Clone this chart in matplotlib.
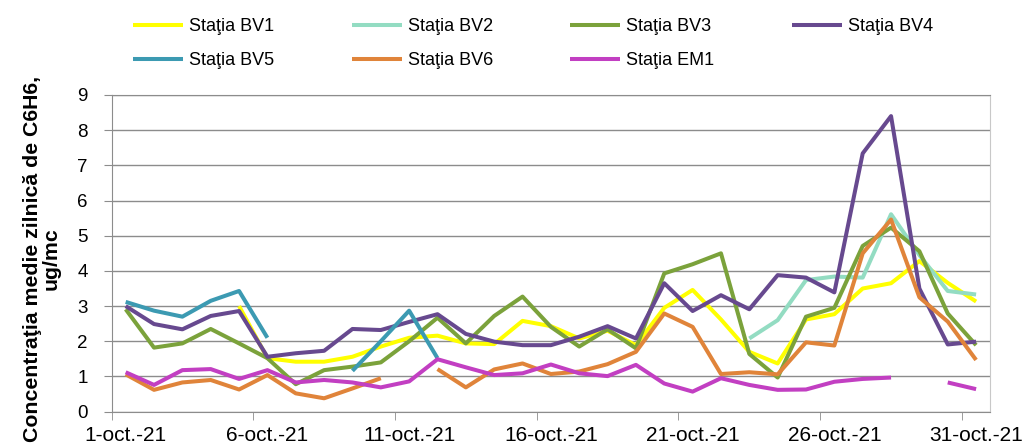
import numpy as np
import matplotlib
matplotlib.use("Agg")
import matplotlib.pyplot as plt

plt.rcParams["font.family"] = ["Liberation Sans", "DejaVu Sans"]

nan = np.nan

# Days of October 2021
days = list(range(1, 32))
tick_days = [1, 6, 11, 16, 21, 26, 31]
tick_labels = ["1-oct.-21", "6-oct.-21", "11-oct.-21", "16-oct.-21",
               "21-oct.-21", "26-oct.-21", "31-oct.-21"]

# Daily mean C6H6 (ug/mc), per station
bv1 = [nan, nan, nan, nan, 3.0, 1.52, 1.42, 1.42, 1.56, 1.85,
       2.1, 2.16, 1.94, 1.92, 2.58, 2.43, 2.08, 2.3, 1.89, 2.95,
       3.46, 2.62, 1.7, 1.37, 2.62, 2.77, 3.5, 3.65, 4.28, 3.66, 3.13]
bv2 = [nan, nan, nan, nan, nan, nan, nan, nan, nan, nan,
       nan, nan, nan, nan, nan, nan, nan, nan, nan, nan,
       nan, nan, 2.08, 2.6, 3.74, 3.84, 3.81, 5.61, 4.45, 3.43, 3.33]
bv3 = [2.91, 1.82, 1.94, 2.35, 1.94, 1.52, 0.78, 1.18, 1.28, 1.4,
       2.0, 2.67, 1.94, 2.72, 3.27, 2.41, 1.85, 2.34, 1.8, 3.93,
       4.19, 4.5, 1.64, 0.97, 2.7, 2.95, 4.71, 5.23, 4.56, 2.79, 1.89]
bv4 = [3.0, 2.49, 2.34, 2.72, 2.86, 1.56, 1.66, 1.73, 2.35, 2.32,
       2.55, 2.77, 2.21, 1.99, 1.89, 1.89, 2.13, 2.43, 2.08, 3.65,
       2.86, 3.31, 2.91, 3.88, 3.81, 3.39, 7.34, 8.4, 3.5, 1.91, 1.99]
bv5 = [3.12, 2.87, 2.7, 3.15, 3.43, 2.1, nan, nan, 1.16, 2.0,
       2.87, 1.52, nan, nan, nan, nan, nan, nan, nan, nan,
       nan, nan, nan, nan, nan, nan, nan, nan, nan, nan, nan]
bv6 = [1.06, 0.62, 0.83, 0.9, 0.63, 1.04, 0.52, 0.38, 0.66, 0.95,
       nan, 1.21, 0.69, 1.2, 1.37, 1.07, 1.14, 1.35, 1.7, 2.79,
       2.41, 1.07, 1.12, 1.06, 1.97, 1.88, 4.5, 5.46, 3.25, 2.56, 1.47]
em1 = [1.12, 0.76, 1.18, 1.21, 0.93, 1.18, 0.83, 0.9, 0.83, 0.69,
       0.86, 1.49, 1.26, 1.04, 1.09, 1.34, 1.09, 1.01, 1.33, 0.8,
       0.57, 0.95, 0.76, 0.62, 0.63, 0.85, 0.93, 0.97, nan, 0.83, 0.64]

series = [
    ("Staţia BV1", bv1, "#FFFF00"),
    ("Staţia BV2", bv2, "#93DCC2"),
    ("Staţia BV3", bv3, "#7BA23B"),
    ("Staţia BV4", bv4, "#67498F"),
    ("Staţia BV5", bv5, "#3C9AB2"),
    ("Staţia BV6", bv6, "#E0843A"),
    ("Staţia EM1", em1, "#C23FC2"),
]

fig = plt.figure(figsize=(10.23, 4.46), dpi=100)
ax = fig.add_axes([0.109, 0.077, 0.859, 0.71])

lines = {}
for name, vals, col in series:
    lines[name], = ax.plot(days, vals, color=col, lw=2.9, label=name,
                           solid_capstyle="butt")

ax.set_xlim(0.5, 31.5)
ax.set_ylim(0, 9)
ax.set_yticks(range(0, 10))
ax.yaxis.grid(True, color="#8C8C8C", lw=1)
ax.set_axisbelow(True)

ax.set_xticks(tick_days)
ax.set_xticklabels(tick_labels)
ax.set_xticks(np.arange(0.5, 31, 5), minor=True)
ax.tick_params(axis="x", which="major", length=0, labelsize=15, pad=10)
ax.tick_params(axis="x", which="minor", length=6, color="#8C8C8C", direction="out")
ax.tick_params(axis="y", length=6, color="#8C8C8C", labelsize=13.5, pad=11)

for s in ["left", "bottom", "top"]:
    ax.spines[s].set_color("#8C8C8C")
ax.spines["right"].set_color("#C8C8C8")

ax.set_ylabel("Concentraţia medie zilnică de C6H6,\nug/mc", fontsize=15.3,
              fontweight="bold", linespacing=1.0)
ax.yaxis.set_label_coords(-0.058, 0.482)

# legend is filled column by column, so order for rows BV1..BV4 / BV5..EM1
order = ["Staţia BV1", "Staţia BV5", "Staţia BV2", "Staţia BV6",
         "Staţia BV3", "Staţia EM1", "Staţia BV4"]
fig.legend([lines[n] for n in order], order, loc="upper left",
           bbox_to_anchor=(0.114, 0.9955), ncol=4, frameon=False, fontsize=13,
           handlelength=2.77, handletextpad=0.33, columnspacing=4.3,
           labelspacing=0.92)

fig.savefig("out.png", dpi=100)
